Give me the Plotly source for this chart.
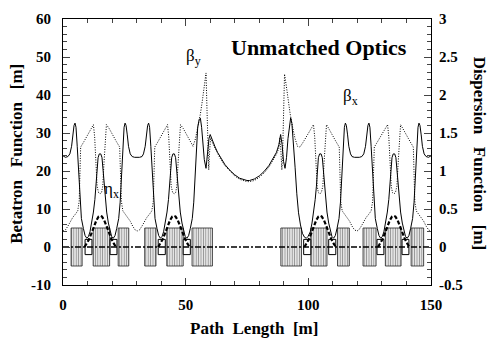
import plotly.graph_objects as go

# ---------------- data ----------------
s_bx = [0, 1, 2, 2.8, 3.5, 4.0, 4.5, 4.9, 5.3, 5.8, 6.3, 6.9, 7.5, 8.3, 9.0, 9.7, 10.4, 11.0, 11.7, 12.4, 13.0, 13.5, 13.9, 14.3, 14.8, 15.4, 15.9, 16.3, 16.7, 17.2, 17.8, 18.5, 19.2, 19.8, 20.5, 21.2, 21.9, 22.7, 23.3, 23.9, 24.4, 24.9, 25.3, 25.7, 26.2, 26.7, 27.4, 28.2, 29.2,
        30.2, 31.2, 32.2, 32.8, 33.5, 34.0, 34.5, 34.9, 35.3, 35.8, 36.3, 36.9, 37.5, 38.3, 39.0, 39.7, 40.4, 41.0, 41.7, 42.4, 43.0, 43.5, 43.9, 44.3, 44.8, 45.4, 45.9, 46.3, 46.7, 47.2, 47.8, 48.5, 49.2, 49.8, 50.5, 51.2, 51.9, 52.7, 53.3, 53.9, 54.4, 54.9, 55.5,
        56.0, 56.5, 57.0, 57.6, 58.3, 58.9, 59.5, 60.0, 61, 62, 63, 64, 66, 68, 70, 72, 74, 75, 76, 78, 80, 82, 84, 86, 87, 88, 88.7,
        89.3, 89.9, 90.5, 91.1, 91.7, 92.3, 92.8, 93.3, 93.9, 94.6, 95.3, 96.0, 96.8, 97.6, 98.4, 99.2, 99.9,
        100.8, 101.5, 102.2, 102.8, 103.3, 103.7, 104.1, 104.6, 105.2, 105.7, 106.1, 106.5, 107.0, 107.6, 108.3, 109.0, 109.6, 110.3, 111.0, 111.7, 112.5, 113.1, 113.7, 114.2, 114.7, 115.1, 115.5, 116.0, 116.5, 117.2, 117.8, 118.8, 119.8,
        120.8, 121.8, 122.6, 123.3, 123.8, 124.3, 124.7, 125.1, 125.6, 126.1, 126.7, 127.3, 128.1, 128.8, 129.5, 130.2, 130.8, 131.5, 132.2, 132.8, 133.3, 133.7, 134.1, 134.6, 135.2, 135.7, 136.1, 136.5, 137.0, 137.6, 138.3, 139.0, 139.6, 140.3, 141.0, 141.7, 142.5, 143.1, 143.7, 144.2, 144.7, 145.1, 145.5, 146.0, 146.5, 147.2, 148.0, 149.0, 150]
beta_x = [24.0, 23.6, 23.8, 24.5, 26.5, 29.5, 32.0, 32.6, 31.5, 26.5, 20.3, 11.8, 7.5, 4.9, 3.0, 2.3, 2.8, 4.0, 6.3, 9.2, 12.5, 16.0, 20.5, 23.5, 24.5, 24.5, 23.5, 20.5, 16.0, 12.5, 9.2, 6.3, 4.0, 2.8, 2.3, 3.0, 4.9, 7.5, 11.8, 20.3, 26.5, 31.5, 32.6, 32.0, 29.5, 26.5, 24.5, 23.8, 23.6,
          23.6, 23.6, 23.8, 24.5, 26.5, 29.5, 32.0, 32.6, 31.5, 26.5, 20.3, 11.8, 7.5, 4.9, 3.0, 2.3, 2.8, 4.0, 6.3, 9.2, 12.5, 16.0, 20.5, 23.5, 24.5, 24.5, 23.5, 20.5, 16.0, 12.5, 9.2, 6.3, 4.0, 2.8, 2.3, 3.0, 4.9, 7.5, 11.8, 20.3, 26.5, 31.5, 33.5,
          33.9, 31.5, 27.5, 23.0, 20.7, 24.5, 28.5, 29.6, 27.8, 26.3, 24.9, 23.7, 21.7, 20.2, 19.0, 18.1, 17.6, 17.5, 17.5, 17.9, 18.7, 19.9, 21.5, 23.6, 24.9, 26.9, 29.6,
          27.0, 22.5, 20.7, 23.5, 28.5, 32.5, 34.0, 32.5, 28.0, 21.0, 14.0, 9.0, 5.8, 3.6, 2.6, 2.3, 2.8,
          4.0, 6.3, 9.2, 12.5, 16.0, 20.5, 23.5, 24.5, 24.5, 23.5, 20.5, 16.0, 12.5, 9.2, 6.3, 4.0, 2.8, 2.3, 3.0, 4.9, 7.5, 11.8, 20.3, 26.5, 31.5, 32.6, 32.0, 29.5, 26.5, 24.5, 23.8, 23.6, 23.6,
          23.6, 23.8, 24.5, 26.5, 29.5, 32.0, 32.6, 31.5, 26.5, 20.3, 11.8, 7.5, 4.9, 3.0, 2.3, 2.8, 4.0, 6.3, 9.2, 12.5, 16.0, 20.5, 23.5, 24.5, 24.5, 23.5, 20.5, 16.0, 12.5, 9.2, 6.3, 4.0, 2.8, 2.3, 3.0, 4.9, 7.5, 11.8, 20.3, 26.5, 31.5, 32.6, 32.0, 29.5, 26.5, 24.5, 23.8, 23.6, 24.0]

s_by = [0, 1, 2, 3, 4, 5, 6, 6.6, 6.9, 7.2, 8.5, 10, 11.5, 12.4, 12.9, 13.4, 13.9, 14.5, 15.1, 15.7, 16.2, 16.7, 17.2, 17.7, 18.8, 20.3, 21.8, 23.1, 23.5, 23.8, 24.4, 25.4, 26.4, 27.4, 28.4, 29.4, 30.2,
        31.2, 32.2, 33.2, 34.2, 35.2, 36.2, 36.8, 37.1, 37.4, 38.7, 40.2, 41.7, 42.6, 43.1, 43.6, 44.1, 44.7, 45.3, 45.9, 46.4, 46.9, 47.4, 47.9, 49.0, 50.5, 52.0, 53.0,
        54.0, 55.0, 56.0, 56.8, 57.6, 58.3, 58.7, 59.1, 59.4, 59.8, 60.2, 61, 62, 63, 64, 66, 68, 70, 72, 74, 75, 76, 78, 80, 82, 84, 86, 87, 88,
        88.4, 88.8, 89.2, 89.5, 89.9, 90.3, 91.0, 91.8, 92.6, 93.6, 94.6, 95.6, 96.6,
        98.0, 99.5, 101.0, 102.1, 102.6, 103.1, 103.6, 104.1, 104.7, 105.3, 105.9, 106.4, 106.9, 107.4, 108.3, 109.8, 111.3, 112.6, 112.9, 113.2, 113.8, 114.8, 115.8, 116.8, 117.8, 118.8, 119.8,
        120.6, 121.6, 122.6, 123.6, 124.6, 125.6, 126.2, 126.5, 126.9, 128.2, 129.7, 131.2, 132.3, 132.8, 133.3, 133.8, 134.3, 134.9, 135.5, 136.1, 136.6, 137.1, 137.6, 138.5, 140, 141.5, 142.8, 143.1, 143.4, 144, 145, 146, 147, 148, 149, 150]
beta_y = [4.2, 4.5, 5.5, 6.8, 7.8, 8.6, 9.5, 12, 20, 26.3, 27.7, 29.3, 31.2, 32.2, 29, 22, 16, 14.3, 14.0, 14.3, 16, 22, 29, 32.2, 31.2, 29.3, 27.7, 26.3, 20, 12, 9.5, 8.6, 7.8, 6.8, 5.5, 4.5, 4.2,
          4.5, 5.5, 6.8, 7.8, 8.6, 9.5, 12, 20, 26.3, 27.7, 29.3, 31.2, 32.2, 29, 22, 16, 14.3, 14.0, 14.3, 16, 22, 29, 32.2, 31.2, 29.3, 27.7, 26.5,
          28.5, 31.5, 35.0, 38.5, 42.5, 45.8, 36, 24, 20.3, 25.5, 28.8, 27.3, 26.0, 24.6, 23.4, 21.4, 19.9, 18.7, 17.8, 17.3, 17.2, 17.2, 17.5, 18.3, 19.5, 21.1, 23.2, 24.4, 26.0,
          28.8, 25.5, 20.3, 24, 36, 45.5, 42.5, 38.5, 35.0, 31.5, 28.5, 26.5, 26.3,
          27.7, 29.3, 31.2, 32.2, 29, 22, 16, 14.3, 14.0, 14.3, 16, 22, 29, 32.2, 31.2, 29.3, 27.7, 26.3, 20, 12, 9.5, 8.6, 7.8, 6.8, 5.5, 4.5, 4.2,
          4.5, 5.5, 6.8, 7.8, 8.6, 9.5, 12, 20, 26.3, 27.7, 29.3, 31.2, 32.2, 29, 22, 16, 14.3, 14.0, 14.3, 16, 22, 29, 32.2, 31.2, 29.3, 27.7, 26.3, 20, 12, 9.5, 8.6, 7.8, 6.8, 5.5, 4.5, 4.2]

# horizontal dispersion bumps (right axis), one list per arc cell
s_eta_1 = [8.8, 9.6, 10.6, 11.6, 12.6, 13.6, 14.5, 15.2, 15.9, 16.8, 17.8, 18.8, 19.8, 20.8, 21.6]
s_eta_2 = [38.8, 39.6, 40.6, 41.6, 42.6, 43.6, 44.5, 45.2, 45.9, 46.8, 47.8, 48.8, 49.8, 50.8, 51.6]
s_eta_3 = [98.4, 99.2, 100.2, 101.2, 102.2, 103.2, 104.1, 104.8, 105.5, 106.4, 107.4, 108.4, 109.4, 110.4, 111.2]
s_eta_4 = [128.4, 129.2, 130.2, 131.2, 132.2, 133.2, 134.1, 134.8, 135.5, 136.4, 137.4, 138.4, 139.4, 140.4, 141.2]
eta_bump = [0.0, 0.04, 0.10, 0.18, 0.27, 0.35, 0.40, 0.41, 0.40, 0.35, 0.27, 0.18, 0.10, 0.04, 0.0]

eta_y_s = [0, 150]
eta_y = [0, 0]

# magnet layout (s ranges)
bend_start = [9.0, 19.2, 38.8, 49.0, 98.1, 108.3, 128.0, 138.2]
bend_end = [11.8, 22.0, 41.7, 51.9, 101.0, 111.2, 130.8, 141.0]
bend_half_height = 2.0
quad_start = [3.3, 12.3, 22.5, 33.3, 42.3, 52.6, 88.8, 101.0, 111.9, 122.3, 131.4, 141.9]
quad_end = [7.8, 19.0, 26.8, 37.9, 49.0, 60.9, 97.2, 107.6, 116.7, 127.6, 137.8, 147.0]
quad_half_height = 5.0

# ---------------- figure ----------------
FONT = "Liberation Serif"
fig = go.Figure()

qx, qy = [], []
for a, b in zip(quad_start, quad_end):
    qx += [a, a, b, b, a, None]
    qy += [-quad_half_height, quad_half_height, quad_half_height, -quad_half_height, -quad_half_height, None]
fig.add_trace(go.Scatter(x=qx, y=qy, mode="lines", fill="toself", fillcolor="rgba(0,0,0,0)",
                         fillpattern=dict(shape="|", size=2.4, solidity=0.5, fgcolor="#222", bgcolor="rgba(0,0,0,0)"),
                         line=dict(color="#222", width=0.8), hoverinfo="skip", showlegend=False))
bx, by = [], []
for a, b in zip(bend_start, bend_end):
    bx += [a, a, b, b, a, None]
    by += [-bend_half_height, bend_half_height, bend_half_height, -bend_half_height, -bend_half_height, None]
fig.add_trace(go.Scatter(x=bx, y=by, mode="lines", fill="toself", fillcolor="white",
                         line=dict(color="black", width=1), hoverinfo="skip", showlegend=False))

fig.add_trace(go.Scatter(x=eta_y_s, y=eta_y, mode="lines", yaxis="y2",
                         line=dict(color="black", width=1.6, dash="6px,2px,2px,2px"), showlegend=False))
fig.add_trace(go.Scatter(x=s_by, y=beta_y, mode="lines",
                         line=dict(color="black", width=1, dash="1px,1.5px"), showlegend=False))
fig.add_trace(go.Scatter(x=s_bx, y=beta_x, mode="lines",
                         line=dict(color="black", width=1), showlegend=False))
for s_e in (s_eta_1, s_eta_2, s_eta_3, s_eta_4):
    fig.add_trace(go.Scatter(x=s_e, y=eta_bump, mode="lines", yaxis="y2",
                             line=dict(color="black", width=2.2, dash="4px,2px"), showlegend=False))

tickfont = dict(family=FONT, size=15, color="black", weight="bold")
title_font = dict(family=FONT, size=17, color="black", weight="bold")
sp = "\u00a0\u00a0\u00a0"
fig.update_layout(
    width=492, height=340,
    margin=dict(l=63, r=61, t=11, b=55),
    paper_bgcolor="white", plot_bgcolor="white",
    font=dict(family=FONT, color="black"),
    xaxis=dict(range=[0, 150], tickvals=[0, 50, 100, 150], ticks="inside", ticklen=7, tickwidth=1,
               minor=dict(dtick=10, ticks="inside", ticklen=4, tickwidth=1),
               showline=True, linecolor="black", linewidth=1, mirror="ticks",
               showgrid=False, zeroline=False, tickfont=tickfont, ticklabelstandoff=6),
    yaxis=dict(range=[-10, 60], tickvals=[-10, 0, 10, 20, 30, 40, 50, 60],
               ticktext=["-10", "0", "10", "20", "30", "40", "50", "60"],
               ticks="inside", ticklen=7, tickwidth=1,
               minor=dict(dtick=2, ticks="inside", ticklen=4, tickwidth=1),
               showline=True, linecolor="black", linewidth=1, mirror=False,
               showgrid=False, zeroline=False, tickfont=tickfont, ticklabelstandoff=8),
    yaxis2=dict(range=[-0.5, 3], overlaying="y", side="right",
                tickvals=[-0.5, 0, 0.5, 1, 1.5, 2, 2.5, 3],
                ticktext=["-0.5", "0", "0.5", "1", "1.5", "2", "2.5", "3"],
                ticks="inside", ticklen=7, tickwidth=1,
                minor=dict(dtick=0.1, ticks="inside", ticklen=4, tickwidth=1),
                showline=True, linecolor="black", linewidth=1,
                showgrid=False, zeroline=False, tickfont=tickfont, ticklabelstandoff=4),
    annotations=[
        dict(text="Unmatched Optics", x=104.2, y=52.6, xref="x", yref="y", showarrow=False,
             font=dict(family=FONT, size=22, color="black", weight="bold")),
        dict(text="β<sub>y</sub>", x=53.3, y=50.0, xref="x", yref="y", showarrow=False,
             font=dict(family=FONT, size=17, color="black")),
        dict(text="β<sub>x</sub>", x=117.2, y=39.6, xref="x", yref="y", showarrow=False,
             font=dict(family=FONT, size=17, color="black")),
        dict(text="η<sub>x</sub>", x=19.8, y=15.0, xref="x", yref="y", showarrow=False,
             font=dict(family=FONT, size=17, color="black")),
        dict(text="Path\u00a0\u00a0Length\u00a0\u00a0[m]", x=0.519, y=-0.122, xref="paper", yref="paper",
             showarrow=False, xanchor="center", yanchor="top",
             font=dict(family=FONT, size=17, color="black", weight="bold")),
        dict(text="Betatron" + sp + "Function" + sp + "[m]", x=-0.125, y=0.493, xref="paper", yref="paper",
             showarrow=False, textangle=-90, xanchor="center", yanchor="middle", font=title_font),
        dict(text="Dispersion" + sp + "Function" + sp + "[m]", x=1.131, y=0.493, xref="paper", yref="paper",
             showarrow=False, textangle=90, xanchor="center", yanchor="middle", font=title_font),
    ],
)

fig.write_html("out.html")
